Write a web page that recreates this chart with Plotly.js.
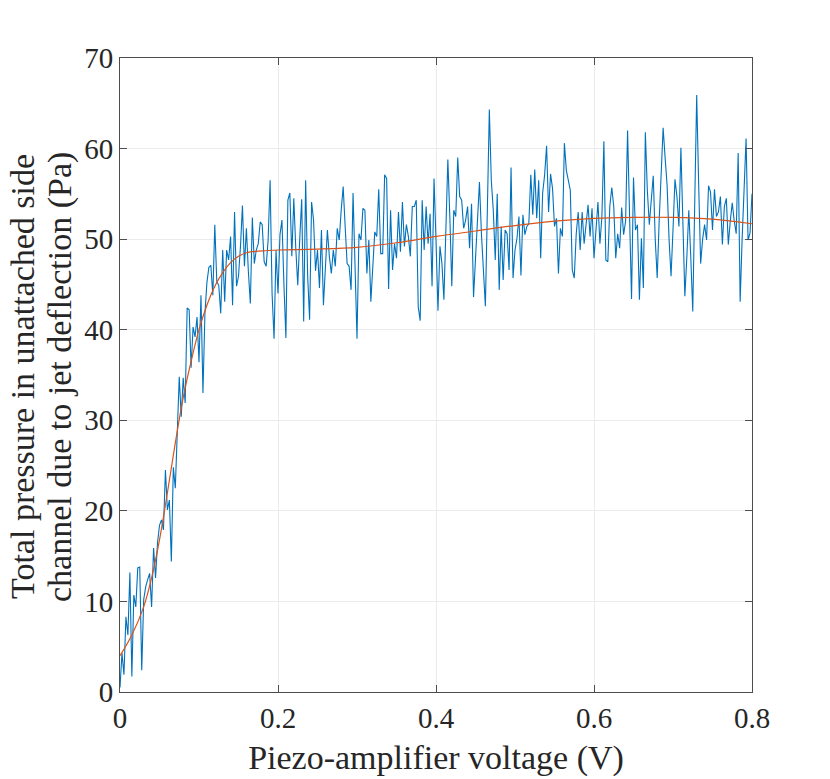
<!DOCTYPE html>
<html>
<head>
<meta charset="utf-8">
<script src="https://cdn.plot.ly/plotly-3.0.1.min.js"></script>
<style>html,body{margin:0;padding:0;background:#fff;}#chart{width:830px;height:779px;}</style>
</head>
<body>
<div id="chart"></div>
<script>
// Measured pressure (Pa), sampled evenly from 0 to 0.8 V
const measuredPressure = [
  0.5, 4.3, 1.9, 8.3, 6.3, 13.2, 1.7, 10.7, 9.4, 13.7,
  13.8, 2.4, 10.2, 11.6, 12.4, 13.1, 9.4, 15.9, 12.6, 16.5,
  18.4, 19.0, 17.9, 24.5, 20.1, 21.2, 14.4, 24.8, 22.5, 28.5,
  34.8, 30.4, 34.7, 31.9, 42.4, 42.2, 35.8, 40.3, 39.2, 41.4,
  36.4, 43.8, 33.0, 41.8, 45.2, 46.9, 47.1, 43.8, 51.6, 45.3,
  44.9, 41.8, 48.8, 43.1, 48.8, 47.7, 50.3, 42.7, 53.0, 44.8,
  45.9, 49.2, 53.7, 47.0, 51.2, 46.4, 42.9, 52.4, 47.3, 48.8,
  49.5, 51.9, 51.6, 47.5, 47.0, 49.9, 56.5, 44.0, 39.0, 48.8,
  44.0, 50.5, 52.1, 45.0, 39.1, 54.3, 55.1, 48.1, 54.5, 49.0,
  44.9, 50.0, 54.4, 40.9, 56.5, 46.0, 41.1, 54.1, 52.1, 46.5,
  48.8, 44.6, 51.0, 42.7, 47.5, 51.0, 48.1, 46.2, 48.8, 47.0,
  51.2, 49.9, 53.2, 55.8, 51.4, 47.3, 47.0, 44.4, 55.1, 47.3,
  39.0, 50.6, 49.9, 53.4, 53.2, 46.2, 49.9, 43.1, 46.6, 50.8,
  50.3, 55.5, 48.4, 48.4, 57.1, 56.7, 44.5, 53.2, 46.6, 49.5,
  47.9, 53.0, 48.6, 54.1, 49.2, 51.6, 50.3, 48.1, 53.6, 53.6,
  54.3, 42.5, 41.0, 54.3, 48.8, 53.6, 49.5, 52.8, 44.8, 56.7,
  49.9, 42.1, 49.2, 47.3, 43.3, 50.6, 58.8, 52.5, 44.8, 53.2,
  52.5, 59.0, 54.7, 54.3, 51.2, 52.1, 53.6, 49.0, 53.9, 43.6,
  48.1, 52.5, 56.3, 50.6, 45.7, 42.6, 53.2, 64.3, 56.5, 53.2,
  47.7, 55.0, 44.4, 51.4, 45.5, 51.0, 50.6, 46.6, 57.9, 45.7,
  48.8, 50.1, 52.5, 46.0, 52.7, 50.5, 51.4, 51.7, 57.1, 52.7,
  57.7, 52.3, 56.5, 47.9, 55.1, 57.1, 60.3, 53.0, 57.2, 55.6,
  51.4, 52.3, 46.2, 51.2, 50.3, 60.6, 57.6, 56.5, 55.4, 46.6,
  45.7, 50.6, 53.0, 48.8, 53.0, 49.5, 51.5, 53.8, 50.3, 53.4,
  47.9, 51.0, 54.1, 49.5, 52.5, 60.8, 47.7, 47.5, 53.6, 55.7,
  53.6, 47.9, 50.6, 49.0, 53.5, 50.5, 52.0, 62.0, 53.4, 43.4,
  56.8, 51.0, 51.6, 43.3, 50.1, 44.6, 61.8, 55.4, 51.6, 54.0,
  57.0, 50.0, 45.7, 52.0, 56.5, 62.3, 59.0, 56.0, 50.0, 45.9,
  51.0, 56.6, 54.7, 51.4, 60.1, 52.0, 43.7, 48.0, 53.2, 48.0,
  42.0, 54.0, 65.9, 56.0, 47.3, 50.0, 51.6, 49.9, 55.9, 55.2,
  51.0, 55.5, 52.5, 53.0, 54.7, 49.4, 53.6, 54.5, 49.4, 52.0,
  54.0, 52.0, 50.6, 59.5, 43.1, 50.0, 56.0, 61.1, 49.9, 50.7,
  55.0
];
const voltageStart = 0;
const voltageEnd = 0.8;

// Smooth fitted curve
const fitVoltage = [0, 0.015, 0.03, 0.04, 0.05, 0.06, 0.07, 0.08, 0.09, 0.1, 0.11, 0.12, 0.13, 0.14, 0.15, 0.16, 0.18, 0.2, 0.25, 0.3, 0.35, 0.4, 0.45, 0.5, 0.55, 0.6, 0.65, 0.7, 0.75, 0.8];
const fitPressure = [4.0, 6.3, 9.4, 12.6, 16.8, 22.0, 27.5, 32.5, 36.5, 40.0, 42.7, 44.8, 46.3, 47.4, 48.1, 48.5, 48.7, 48.8, 48.9, 49.1, 49.6, 50.3, 50.9, 51.5, 52.0, 52.3, 52.4, 52.4, 52.2, 51.7];

const xTicks = [0, 0.2, 0.4, 0.6, 0.8];
const xTickLabels = ['0', '0.2', '0.4', '0.6', '0.8'];
const yTicks = [0, 10, 20, 30, 40, 50, 60, 70];
const yTickLabels = ['0', '10', '20', '30', '40', '50', '60', '70'];
const xTitle = 'Piezo-amplifier voltage (V)';
const yTitleLines = ['Total pressure in unattached side', 'channel due to jet deflection (Pa)'];

const n = measuredPressure.length;
const measuredVoltage = measuredPressure.map((_, i) => voltageStart + (voltageEnd - voltageStart) * i / (n - 1));

const font = 'Liberation Serif, Times New Roman, serif';
const axisCommon = {
  showline: true, mirror: 'ticks', linecolor: '#4d4d4d', linewidth: 1,
  ticks: 'inside', ticklen: 7, tickwidth: 1, tickcolor: '#4d4d4d',
  showgrid: true, gridcolor: '#ebebeb', gridwidth: 1,
  zeroline: false,
  tickfont: {family: font, size: 29, color: '#262626'}
};

const data = [
  {x: measuredVoltage, y: measuredPressure, type: 'scatter', mode: 'lines',
   line: {color: '#0072BD', width: 1.1}, hoverinfo: 'skip'},
  {x: fitVoltage, y: fitPressure, type: 'scatter', mode: 'lines',
   line: {color: '#D95319', width: 1.2, shape: 'spline', smoothing: 1}, hoverinfo: 'skip'}
];

const plotL = 120, plotW = 632, plotT = 58, plotH = 634;
const titleFont = {family: font, size: 34, color: '#262626'};

const layout = {
  width: 830, height: 779,
  margin: {l: plotL, r: 830 - plotL - plotW, t: plotT, b: 779 - plotT - plotH},
  paper_bgcolor: '#ffffff', plot_bgcolor: '#ffffff',
  showlegend: false,
  xaxis: Object.assign({}, axisCommon, {
    range: [0, 0.8], tickvals: xTicks, ticktext: xTickLabels,
    title: {text: xTitle, font: titleFont, standoff: 12}
  }),
  yaxis: Object.assign({}, axisCommon, {
    range: [0, 70], tickvals: yTicks, ticktext: yTickLabels
  }),
  annotations: [
    {text: yTitleLines[0], textangle: -90, showarrow: false, font: titleFont,
     xref: 'paper', yref: 'paper', x: (22 - plotL) / plotW, y: (plotT + plotH - 377) / plotH,
     xanchor: 'center', yanchor: 'middle'},
    {text: yTitleLines[1], textangle: -90, showarrow: false, font: titleFont,
     xref: 'paper', yref: 'paper', x: (60 - plotL) / plotW, y: (plotT + plotH - 377) / plotH,
     xanchor: 'center', yanchor: 'middle'}
  ]
};

Plotly.newPlot('chart', data, layout, {staticPlot: true, displayModeBar: false});
</script>
</body>
</html>
